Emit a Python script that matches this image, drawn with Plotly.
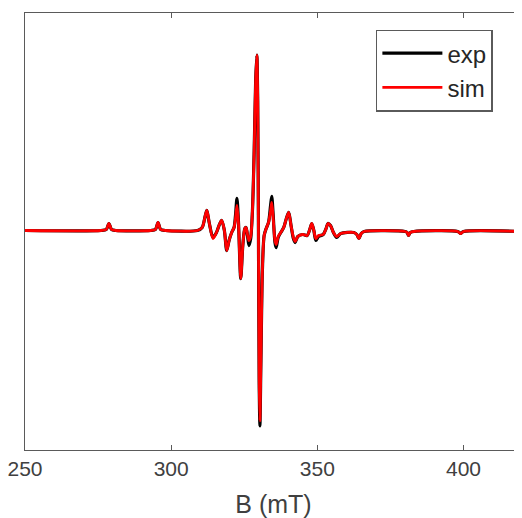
import plotly.graph_objects as go

# Field (mT) and intensity (a.u.)
B_exp = [250, 276, 277.8, 278.7, 279.6, 281, 293, 294.6, 295.5, 296.4, 298, 309,
         310.6, 311.6, 312.2, 313.0, 314.3, 315.5, 316.5, 317.3, 318.2, 319.0,
         319.8, 320.7, 321.5, 322.0, 322.5, 323.0, 323.8, 324.5, 325.2, 325.6,
         326.1, 326.6, 327.2, 327.8, 328.4, 328.9, 329.3, 329.6, 329.85, 330.1,
         330.35, 330.7, 331.2, 331.8, 332.5, 333.3, 334.0, 334.4, 334.9, 335.5,
         335.9, 336.6, 337.5, 338.5, 339.4, 340.2, 341.0, 341.8, 342.4, 343.3,
         345, 346.5, 347.5, 348.1, 348.8, 349.5, 350.4, 352, 353.0, 353.6, 354.5,
         355.5, 356.6, 358, 362.5, 363.5, 364.2, 365.0, 366, 380, 380.7, 381.2,
         381.8, 383, 398, 399, 400, 420]
I_exp = [0, 0, 1, 7, 1, 0, 0, 1, 8, 1, 0, 0,
         3, 14, 20, 8, -7, -2, 6, 10, 0, -20,
         -10, -2, 3, 15, 32, 10, -48, -15, 2, 3,
         -5, -15, -8, 20, 80, 150, 175, 130, 0, -150,
         -195, -130, -40, -5, 2, 8, 25, 34, 15, -12,
         -17, -7, -2, 3, 12, 18, 5, -8, -12, -6,
         -4, -5, 2, 7, 0, -10, -6, -4, 2, 7, 5,
         -2, -7, -3, -2, -4, -8, -3, -1, -1, -2, -5,
         -2, -1, -1, -3, -1, -1]

B_sim = B_exp
I_sim = [0, 0, 1, 7, 1, 0, 0, 1, 8, 1, 0, 0,
         3, 14, 20, 8, -8, -2, 6, 10, 0, -20,
         -10, -2, 3, 12, 25, 8, -48, -15, 2, 3,
         -4, -10, -6, 20, 80, 150, 175, 130, 0, -148,
         -190, -128, -40, -5, 2, 8, 20, 28, 12, -10,
         -14, -6, -2, 3, 12, 18, 5, -7, -11, -6,
         -4, -5, 2, 7, 0, -8, -5, -4, 2, 7, 5,
         -2, -6, -3, -2, -4, -8, -3, -1, -1, -2, -5,
         -2, -1, -1, -3, -1, -1]

x_ticks = [250, 300, 350, 400]

fig = go.Figure()
fig.add_trace(go.Scatter(x=B_exp, y=I_exp, mode="lines", name="exp",
                         line=dict(color="black", width=3.2, shape="spline", smoothing=0.8)))
fig.add_trace(go.Scatter(x=B_sim, y=I_sim, mode="lines", name="sim",
                         line=dict(color="#ff0000", width=2.8, shape="spline", smoothing=0.8)))

axis_col = "#5a5a5a"
fig.update_layout(
    width=514, height=510,
    margin=dict(l=17, r=0, t=5, b=68),
    paper_bgcolor="white", plot_bgcolor="white",
    font=dict(family="Liberation Sans, Arial, sans-serif", size=21, color="#404040"),
    showlegend=True,
    legend=dict(x=0.706, y=0.962, xanchor="left", yanchor="top",
                bgcolor="white", bordercolor=axis_col, borderwidth=1.5,
                font=dict(size=24, color="#262626"), itemwidth=60,
                tracegroupgap=0),
    xaxis=dict(range=[250, 420], tickvals=x_ticks, ticktext=[str(t) for t in x_ticks],
               ticks="inside", ticklen=5, tickcolor=axis_col, showline=True,
               linecolor=axis_col, linewidth=1.2, mirror="ticks", showgrid=False,
               zeroline=False, ticklabeloverflow="allow",
               automargin=False, title=dict(text="B (mT)", standoff=24)),
    yaxis=dict(range=[-219, 217], showticklabels=False, ticks="", showline=True,
               linecolor=axis_col, linewidth=1.2, mirror=False, showgrid=False,
               zeroline=False, automargin=False),
)

fig.write_html("out.html", config={"displayModeBar": False})
